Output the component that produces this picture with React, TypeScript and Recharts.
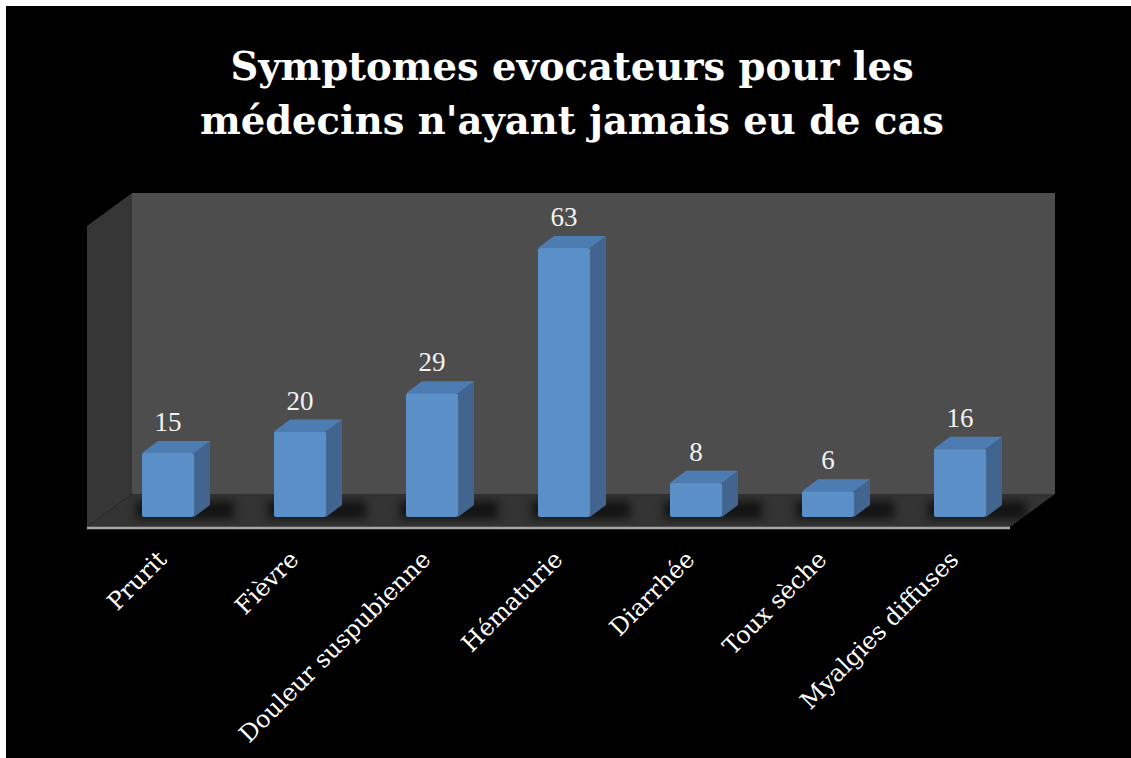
import { Bar, BarChart, LabelList, XAxis, YAxis } from "recharts";

const categories = [
  "Prurit",
  "Fièvre",
  "Douleur suspubienne",
  "Hématurie",
  "Diarrhée",
  "Toux sèche",
  "Myalgies diffuses",
];
const counts = [15, 20, 29, 63, 8, 6, 16];
const yDomain = [0, 70];
const titleLines = ["Symptomes evocateurs pour les", "médecins n'ayant jamais eu de cas"];

const data = categories.map((name, i) => ({ name, value: counts[i] }));

const W = 1125;
const H = 752;
const margin = { top: 212, right: 105, left: 96, bottom: 0 };
const AXIS_H = 241;
const plotLeft = margin.left;
const plotRight = W - margin.right;
const plotTop = margin.top;
const plotBottom = H - AXIS_H;

// room depth (back wall offset) and bar depth
const RD = { dx: 45, dy: -33 };
const BD = { dx: 16, dy: -12 };
const LABEL_Y = plotBottom + 44;

// walls: front edge of the floor sits a little in front of the bars
const floorFrontY = plotBottom + 10;
const frontLeft = plotLeft - 15;
const frontRight = plotRight - 16;
const backLeft = frontLeft + RD.dx;
const backRight = frontRight + RD.dx;
const floorBackY = floorFrontY + RD.dy;
const wallTopBack = plotTop - 25;
const wallTopFront = wallTopBack - RD.dy;

function Room() {
  return (
    <svg width={W} height={H} style={{ position: "absolute", left: 0, top: 0 }}>
      <defs>
        <filter id="barShadow" x="-30%" y="-100%" width="160%" height="300%">
          <feGaussianBlur stdDeviation="4" />
        </filter>
      </defs>
      {titleLines.map((t, i) => (
        <text
          key={t}
          x={566}
          y={74 + i * 54}
          textAnchor="middle"
          fill="#ffffff"
          fontFamily="'DejaVu Serif'"
          fontWeight="bold"
          fontSize={38.5}
        >
          {t}
        </text>
      ))}
      <rect
        x={backLeft}
        y={wallTopBack}
        width={backRight - backLeft}
        height={floorBackY - wallTopBack}
        fill="#4d4d4d"
      />
      <polygon
        points={`${frontLeft},${wallTopFront} ${backLeft},${wallTopBack} ${backLeft},${floorBackY} ${frontLeft},${floorFrontY}`}
        fill="#363636"
      />
      <polygon
        points={`${frontLeft},${floorFrontY} ${backLeft},${floorBackY} ${backRight},${floorBackY} ${frontRight},${floorFrontY}`}
        fill="#333333"
      />
      <line
        x1={frontLeft}
        y1={floorFrontY + 1}
        x2={frontRight}
        y2={floorFrontY + 1}
        stroke="#a6a6a6"
        strokeWidth={2.5}
      />
    </svg>
  );
}

function Box3D(props: any) {
  const { x, y, width: w, height: h } = props;
  if (w == null || h == null) return null;
  const b = y + h;
  const { dx, dy } = BD;
  return (
    <g>
      <rect
        x={x - 6}
        y={b - 16}
        width={w + 46}
        height={18}
        fill="#000000"
        opacity={0.6}
        filter="url(#barShadow)"
      />
      <polygon
        points={`${x + w},${y} ${x + w + dx},${y + dy} ${x + w + dx},${b + dy} ${x + w},${b}`}
        fill="#41658f"
      />
      <polygon
        points={`${x},${y} ${x + dx},${y + dy} ${x + w + dx},${y + dy} ${x + w},${y}`}
        fill="#4d7cb2"
      />
      <rect x={x} y={y} width={w} height={h} rx={2} fill="#5b8fc8" />
    </g>
  );
}

function ValueLabel(props: any) {
  const { x, y, width, value } = props;
  return (
    <text
      x={x + width / 2}
      y={y - 22}
      textAnchor="middle"
      fill="#f2f2f2"
      fontFamily="'Liberation Serif'"
      fontSize={27}
    >
      {value}
    </text>
  );
}

function CategoryTick(props: any) {
  const { x, payload } = props;
  return (
    <text
      x={x}
      y={LABEL_Y}
      transform={`rotate(-45 ${x} ${LABEL_Y})`}
      textAnchor="end"
      fill="#ffffff"
      fontFamily="'DejaVu Serif'"
      fontSize={24}
    >
      {payload.value}
    </text>
  );
}

export default function App() {
  return (
    <div
      style={{
        position: "absolute",
        left: 6,
        top: 6,
        width: W,
        height: H,
        background: "#000000",
      }}
    >
      <Room />
      <div style={{ position: "absolute", left: 0, top: 0 }}>
        <BarChart width={W} height={H} data={data} margin={margin} barSize={52}>
          <XAxis
            dataKey="name"
            height={AXIS_H}
            axisLine={false}
            tickLine={false}
            interval={0}
            tick={<CategoryTick />}
          />
          <YAxis hide domain={yDomain} />
          <Bar dataKey="value" shape={<Box3D />} isAnimationActive={false}>
            <LabelList dataKey="value" content={<ValueLabel />} />
          </Bar>
        </BarChart>
      </div>
    </div>
  );
}
